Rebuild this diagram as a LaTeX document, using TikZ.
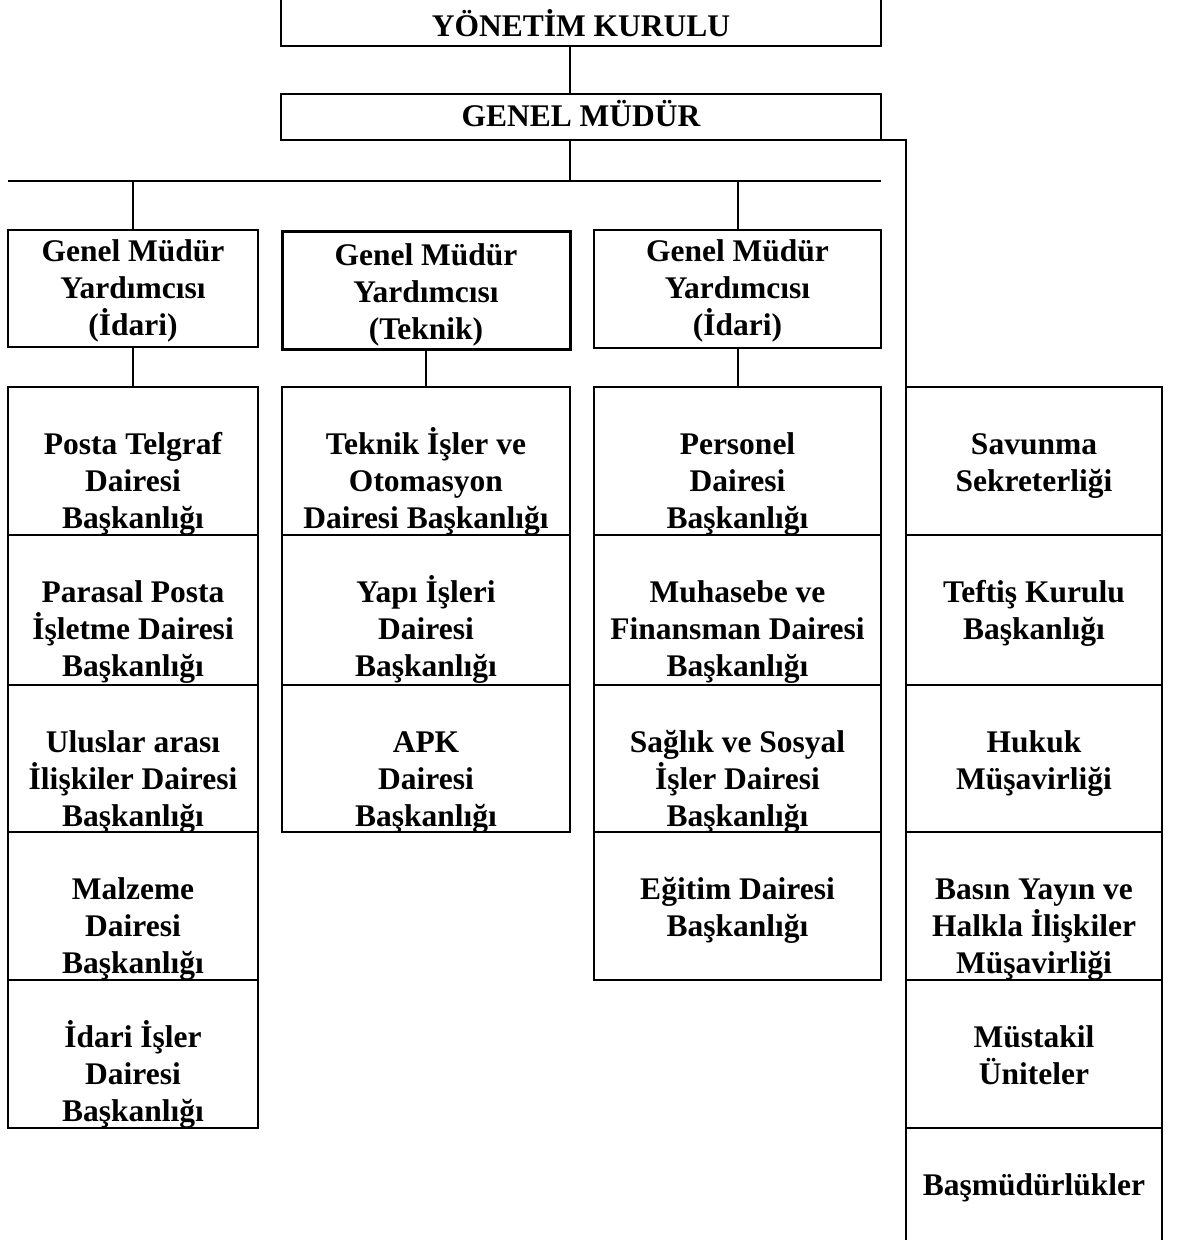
\documentclass[tikz,border=0pt]{standalone}
\usepackage{fontspec}
\setmainfont{Liberation Serif}
\usetikzlibrary{calc}
\tikzset{
  box/.style={draw, line width=2pt, rectangle, inner sep=0pt, outer sep=0pt, anchor=north west},
  txt/.style={anchor=north, inner sep=0pt, outer sep=0pt, align=center,
    font=\fontsize{31.5}{37.3}\selectfont\bfseries},
  conn/.style={line width=2pt},
}
% \obox[style]{name}{x1}{y1}{x2}{y2}{text offset}{text}
\newcommand\obox[8][]{%
  \node[box, minimum width={(#5)-(#3)}, minimum height={(#6)-(#4)}, #1] (#2) at (#3,#4) {};
  \node[txt] (#2t) at ($(#2.north)+(0,#7)$) {\rule{0pt}{28pt}#8};
}
\begin{document}
\begin{tikzpicture}[x=1pt,y=-1pt]
\clip (0,0) rectangle (1176,1240);
% top
\obox{yk}{281}{-20}{881}{46}{28}{YÖNETİM KURULU}
\obox{gm}{281}{94}{881}{140}{4}{GENEL MÜDÜR}
% deputies
\obox{ga}{8}{230}{258}{347}{3}{Genel Müdür\\Yardımcısı\\(İdari)}
\obox[line width=3pt]{gb}{282}{231}{570}{349}{6}{Genel Müdür\\Yardımcısı\\(Teknik)}
\obox{gc}{594}{230}{881}{348}{3}{Genel Müdür\\Yardımcısı\\(İdari)}
% left column
\obox{l1}{8}{387}{258}{535}{39}{Posta Telgraf\\Dairesi\\Başkanlığı}
\obox{l2}{8}{535}{258}{685}{39}{Parasal Posta\\İşletme Dairesi\\Başkanlığı}
\obox{l3}{8}{685}{258}{832}{39}{Uluslar arası\\İlişkiler Dairesi\\Başkanlığı}
\obox{l4}{8}{832}{258}{980}{39}{Malzeme\\Dairesi\\Başkanlığı}
\obox{l5}{8}{980}{258}{1128}{39}{İdari İşler\\Dairesi\\Başkanlığı}
% middle column
\obox{m1}{282}{387}{570}{535}{39}{Teknik İşler ve\\Otomasyon\\Dairesi Başkanlığı}
\obox{m2}{282}{535}{570}{685}{39}{Yapı İşleri\\Dairesi\\Başkanlığı}
\obox{m3}{282}{685}{570}{832}{39}{APK\\Dairesi\\Başkanlığı}
% right column
\obox{r1}{594}{387}{881}{535}{39}{Personel\\Dairesi\\Başkanlığı}
\obox{r2}{594}{535}{881}{685}{39}{Muhasebe ve\\Finansman Dairesi\\Başkanlığı}
\obox{r3}{594}{685}{881}{832}{39}{Sağlık ve Sosyal\\İşler Dairesi\\Başkanlığı}
\obox{r4}{594}{832}{881}{980}{39}{Eğitim Dairesi\\Başkanlığı}
% far right column
\obox{f1}{906}{387}{1162}{535}{39}{Savunma\\Sekreterliği}
\obox{f2}{906}{535}{1162}{685}{39}{Teftiş Kurulu\\Başkanlığı}
\obox{f3}{906}{685}{1162}{832}{39}{Hukuk\\Müşavirliği}
\obox{f4}{906}{832}{1162}{980}{39}{Basın Yayın ve\\Halkla İlişkiler\\Müşavirliği}
\obox{f5}{906}{980}{1162}{1128}{39}{Müstakil\\Üniteler}
\obox{f6}{906}{1128}{1162}{1275}{39}{Başmüdürlükler}
% connectors
\coordinate (busL) at (8,181);
\coordinate (busR) at (881,181);
\coordinate (rt) at (906,140);
\draw[conn] ([xshift=-11pt]yk.south) -- ([xshift=-11pt]gm.north);
\draw[conn] ([xshift=-11pt]gm.south) -- ([xshift=-11pt]gm.south |- busL);
\draw[conn] (busL) -- (busR);
\draw[conn] (ga.north |- busL) -- (ga.north);
\draw[conn] (gc.north |- busL) -- (gc.north);
\draw[conn] (ga.south) -- (l1.north);
\draw[conn] (gb.south) -- (m1.north);
\draw[conn] (gc.south) -- (r1.north);
\draw[conn] (gm.south east) -- (rt) -- (f1.north west);
\end{tikzpicture}
\end{document}
